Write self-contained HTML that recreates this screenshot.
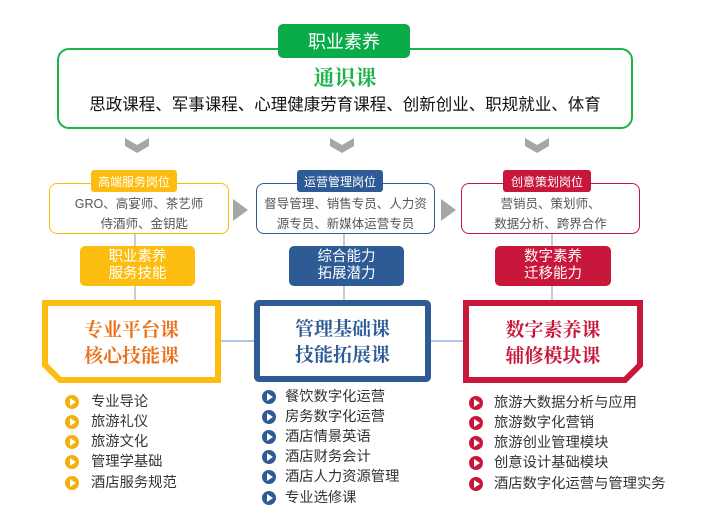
<!DOCTYPE html>
<html><head><meta charset="utf-8"><style>
body{margin:0;width:720px;height:528px;background:#fff;position:relative;overflow:hidden;font-family:"Liberation Sans","Noto Sans CJK SC",sans-serif;}
.a{position:absolute;box-sizing:border-box;}
.c{display:flex;align-items:center;justify-content:center;text-align:center;}
.t{position:absolute;font-size:14.3px;color:#333;white-space:nowrap;line-height:20px;}
.ic{position:absolute;width:14px;height:14px;border-radius:50%;}
.ic:after{content:"";position:absolute;left:5px;top:3px;border-left:6px solid #fff;border-top:4px solid transparent;border-bottom:4px solid transparent;}
.big{font-family:"Noto Serif CJK SC",serif;font-weight:bold;font-size:19px;line-height:26px;}
</style></head><body>
<div class="a" style="left:57px;top:48px;width:576px;height:81px;border:2px solid #1db34a;border-radius:12px;"></div>
<div class="a c" style="left:278px;top:24px;width:132px;height:34px;background:#0aac4a;border-radius:5px;color:#fff;font-size:18px;">职业素养</div>
<div class="a c" style="left:57px;top:63px;width:576px;height:28px;color:#1db34a;font-size:21px;font-weight:bold;font-family:'Noto Serif CJK SC',serif;">通识课</div>
<div class="a c" style="left:57px;top:92px;width:576px;height:22px;color:#111;font-size:16.5px;">思政课程、军事课程、心理健康劳育课程、创新创业、职规就业、体育</div>
<svg class="a" style="left:0;top:0" width="720" height="528">
<g fill="#a6a6a6">
<polygon points="125,138 137,145 149,138 149,146 137,153 125,146"/>
<polygon points="330,138 342,145 354,138 354,146 342,153 330,146"/>
<polygon points="525,138 537,145 549,138 549,146 537,153 525,146"/>
<polygon points="233,199 248,210 233,221"/>
<polygon points="441,199 456,210 441,221"/>
</g>
<g stroke="#999" stroke-width="1">
<line x1="135" y1="233" x2="135" y2="300"/>
<line x1="344" y1="233" x2="344" y2="300"/>
<line x1="552" y1="233" x2="552" y2="300"/>
</g>
<g stroke="#7aa6d6" stroke-width="1.2">
<line x1="221" y1="341" x2="254" y2="341"/>
<line x1="431" y1="341" x2="463" y2="341"/>
</g>
<path d="M45,303 H218 V380 H60 L45,365 Z" fill="#fff" stroke="#fdbd10" stroke-width="6"/>
<rect x="257" y="303" width="171" height="76" rx="2" fill="#fff" stroke="#2e5b95" stroke-width="6"/>
<path d="M466,303 H640 V365 L625,380 H466 Z" fill="#fff" stroke="#c8173a" stroke-width="6"/>
</svg>
<div class="a c big" style="left:45px;top:303px;width:173px;height:77px;color:#e8731c;">专业平台课<br>核心技能课</div>
<div class="a c big" style="left:257px;top:303px;width:171px;height:76px;color:#2e5b95;">管理基础课<br>技能拓展课</div>
<div class="a c big" style="left:466px;top:303px;width:174px;height:77px;color:#c8173a;">数字素养课<br>辅修模块课</div>
<div class="a c" style="left:49px;top:183px;width:180px;height:51px;border:1.5px solid #fdbd10;border-radius:8px;color:#555;font-size:12.5px;line-height:20px;padding-top:10px;">GRO、高宴师、茶艺师<br>&nbsp;&nbsp;&nbsp;侍酒师、金钥匙</div>
<div class="a c" style="left:91px;top:170px;width:86px;height:22px;background:#fdbd10;border-radius:3px;color:#fff;font-size:12px;">高端服务岗位</div>
<div class="a c" style="left:256px;top:183px;width:179px;height:51px;border:1.5px solid #2e5b95;border-radius:8px;color:#555;font-size:12.5px;line-height:20px;padding-top:10px;">督导管理、销售专员、人力资<br>源专员、新媒体运营专员</div>
<div class="a c" style="left:297px;top:170px;width:86px;height:22px;background:#2e5b95;border-radius:3px;color:#fff;font-size:12px;">运营管理岗位</div>
<div class="a c" style="left:461px;top:183px;width:179px;height:51px;border:1.5px solid #c8173a;border-radius:8px;color:#555;font-size:12.5px;line-height:20px;padding-top:10px;">营销员、策划师、<br>数据分析、跨界合作</div>
<div class="a c" style="left:503px;top:170px;width:88px;height:22px;background:#c8173a;border-radius:3px;color:#fff;font-size:12px;">创意策划岗位</div>
<div class="a c" style="left:80px;top:246px;width:115px;height:40px;background:#fdbd10;border-radius:5px;color:#fff;font-size:14.5px;line-height:17px;">职业素养<br>服务技能</div>
<div class="a c" style="left:289px;top:246px;width:115px;height:40px;background:#2e5b95;border-radius:5px;color:#fff;font-size:14.5px;line-height:17px;">综合能力<br>拓展潜力</div>
<div class="a c" style="left:495px;top:246px;width:116px;height:40px;background:#c8173a;border-radius:5px;color:#fff;font-size:14.5px;line-height:17px;">数字素养<br>迁移能力</div>

<div class="ic" style="left:65px;top:395px;background:#f2b10c"></div><div class="t" style="left:91px;top:392px">专业导论</div>
<div class="ic" style="left:65px;top:415px;background:#f2b10c"></div><div class="t" style="left:91px;top:412px">旅游礼仪</div>
<div class="ic" style="left:65px;top:435px;background:#f2b10c"></div><div class="t" style="left:91px;top:432px">旅游文化</div>
<div class="ic" style="left:65px;top:455px;background:#f2b10c"></div><div class="t" style="left:91px;top:452px">管理学基础</div>
<div class="ic" style="left:65px;top:476px;background:#f2b10c"></div><div class="t" style="left:91px;top:473px">酒店服务规范</div>

<div class="ic" style="left:262px;top:390px;background:#2e5b95"></div><div class="t" style="left:285px;top:387px">餐饮数字化运营</div>
<div class="ic" style="left:262px;top:410px;background:#2e5b95"></div><div class="t" style="left:285px;top:407px">房务数字化运营</div>
<div class="ic" style="left:262px;top:430px;background:#2e5b95"></div><div class="t" style="left:285px;top:427px">酒店情景英语</div>
<div class="ic" style="left:262px;top:450px;background:#2e5b95"></div><div class="t" style="left:285px;top:447px">酒店财务会计</div>
<div class="ic" style="left:262px;top:470px;background:#2e5b95"></div><div class="t" style="left:285px;top:467px">酒店人力资源管理</div>
<div class="ic" style="left:262px;top:491px;background:#2e5b95"></div><div class="t" style="left:285px;top:488px">专业选修课</div>

<div class="ic" style="left:469px;top:396px;background:#c8173a"></div><div class="t" style="left:494px;top:393px">旅游大数据分析与应用</div>
<div class="ic" style="left:469px;top:416px;background:#c8173a"></div><div class="t" style="left:494px;top:413px">旅游数字化营销</div>
<div class="ic" style="left:469px;top:436px;background:#c8173a"></div><div class="t" style="left:494px;top:433px">旅游创业管理模块</div>
<div class="ic" style="left:469px;top:456px;background:#c8173a"></div><div class="t" style="left:494px;top:453px">创意设计基础模块</div>
<div class="ic" style="left:469px;top:477px;background:#c8173a"></div><div class="t" style="left:494px;top:474px">酒店数字化运营与管理实务</div>
</body></html>
